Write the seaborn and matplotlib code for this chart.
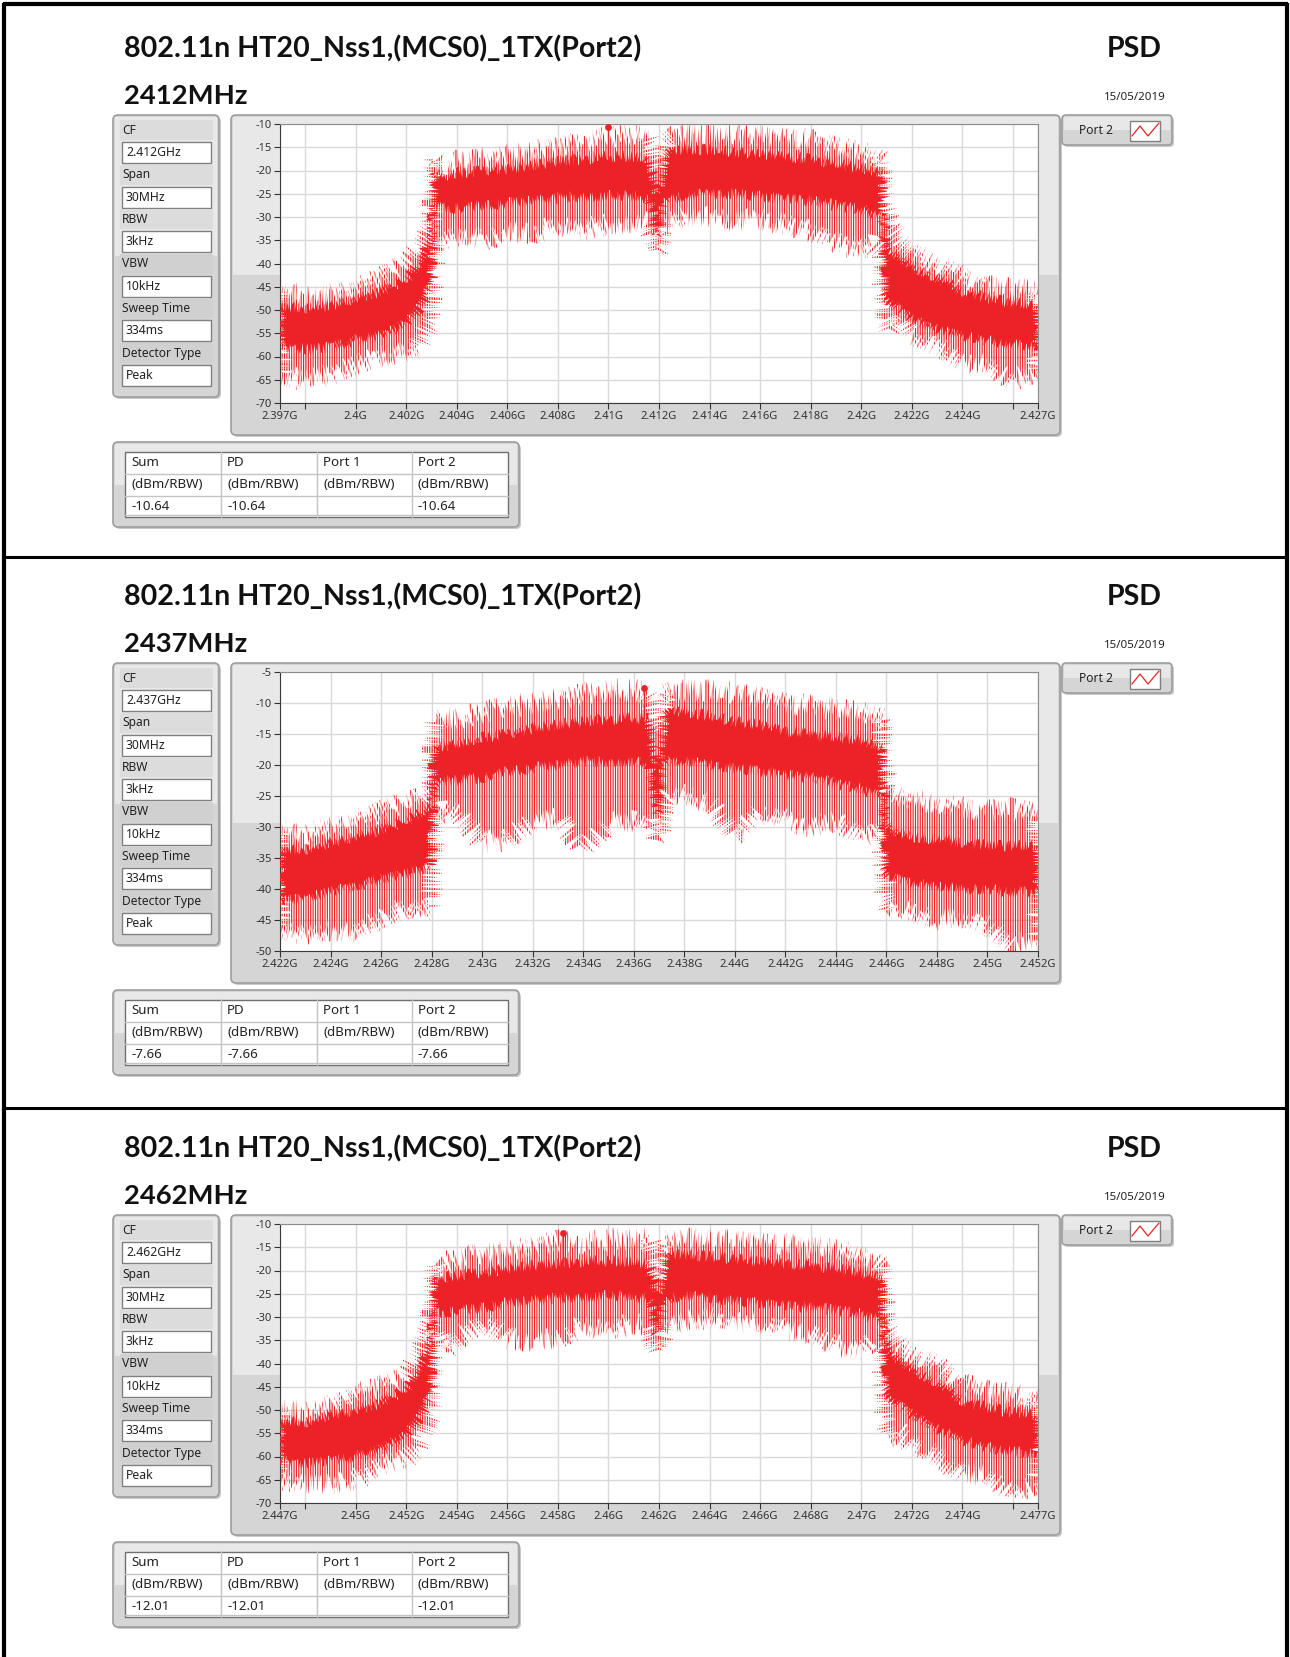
import numpy as np
import matplotlib
matplotlib.use('Agg')
import matplotlib.pyplot as plt
from matplotlib.patches import FancyBboxPatch, Rectangle, Polygon
import seaborn as sns

sns.set_style('white')
plt.rcParams['font.family'] = ['Noto Sans', 'DejaVu Sans']
plt.rcParams['axes.unicode_minus'] = False
plt.rcParams['hatch.linewidth'] = 0.85

W, H = 1290, 1657
RED = '#ed2227'

# ---------------- data ----------------
title = '802.11n HT20_Nss1,(MCS0)_1TX(Port2)'
channels = ['2412MHz', '2437MHz', '2462MHz']
centre_ghz = [2.412, 2.437, 2.462]
span_mhz = 30
cf_text = ['2.412GHz', '2.437GHz', '2.462GHz']
setting_names = ['CF', 'Span', 'RBW', 'VBW', 'Sweep Time', 'Detector Type']
setting_common = ['30MHz', '3kHz', '10kHz', '334ms', 'Peak']
table_cols = ['Sum', 'PD', 'Port 1', 'Port 2']
peak_dbm = ['-10.64', '-7.66', '-12.01']
peak_ghz = [2.4100, 2.4364, 2.4582]
date = '15/05/2019'

y_limits = [(-70, -10), (-50, -5), (-70, -10)]
xticks_2412 = [2.397, 2.398, 2.400, 2.402, 2.404, 2.406, 2.408, 2.410, 2.412, 2.414,
               2.416, 2.418, 2.420, 2.422, 2.424, 2.426, 2.427]
xlabels_2412 = ['2.397G', '', '2.4G', '2.402G', '2.404G', '2.406G', '2.408G', '2.41G', '2.412G',
                '2.414G', '2.416G', '2.418G', '2.42G', '2.422G', '2.424G', '', '2.427G']
xticks_2437 = [2.422, 2.424, 2.426, 2.428, 2.430, 2.432, 2.434, 2.436, 2.438, 2.440,
               2.442, 2.444, 2.446, 2.448, 2.450, 2.452]
xlabels_2437 = ['2.422G', '2.424G', '2.426G', '2.428G', '2.43G', '2.432G', '2.434G', '2.436G',
                '2.438G', '2.44G', '2.442G', '2.444G', '2.446G', '2.448G', '2.45G', '2.452G']
xticks_2462 = [2.447, 2.448, 2.450, 2.452, 2.454, 2.456, 2.458, 2.460, 2.462, 2.464,
               2.466, 2.468, 2.470, 2.472, 2.474, 2.476, 2.477]
xlabels_2462 = ['2.447G', '', '2.45G', '2.452G', '2.454G', '2.456G', '2.458G', '2.46G', '2.462G',
                '2.464G', '2.466G', '2.468G', '2.47G', '2.472G', '2.474G', '', '2.477G']

# offsets from the channel centre (MHz) where the trace envelope was read
offset_mhz = [-15, -14, -13, -12, -11, -10, -9.5, -9.0, -8.9, -8.8, -8.5, -8, -7, -6, -5, -4,
              -3, -2, -1, -0.4, -0.25, -0.1, 0.05, 0.2, 0.5, 1, 2, 3, 4, 5, 6, 7, 8, 8.5,
              8.85, 8.95, 9.1, 9.5, 10, 11, 12, 13, 14, 15]

# dense part of the trace (top / bottom) and the spike extremes (hi / lo), dBm
top_2412 = [-49, -49.5, -49, -47.5, -46, -43.5, -40, -34, -20.5, -20.5, -21, -20.5, -20, -19.5,
            -19, -18, -17.5, -17, -17, -17.5, -21, -25, -24, -17, -15.5, -15.5, -15.5, -16,
            -16.5, -17, -17.5, -18.5, -19.5, -20, -20.5, -35, -37, -38.5, -40.5, -43, -46,
            -47.5, -48.5, -49]
bot_2412 = [-58, -58.5, -58, -56.5, -55.5, -53, -50, -45, -28, -28, -28, -28, -27.5, -27,
            -26.5, -26, -25.5, -25.5, -25.5, -26, -29, -34, -33, -27, -26, -25.5, -25, -25,
            -25.5, -26, -26.5, -27.5, -28.5, -29.5, -30, -47, -48, -50, -52, -54, -55.5,
            -56.5, -57.5, -58]
hi_2412 = [-46, -46.5, -46.5, -45, -43, -40, -37, -32, -17.5, -18, -18.5, -18, -17.5, -16.5,
           -16, -15, -14, -13, -12, -12.5, -15, -20, -20, -14, -12.5, -12, -12, -12, -12.5,
           -13, -13.5, -15, -16, -17, -18, -28, -32, -35, -37.5, -40, -43, -45, -45.5, -46]
lo_2412 = [-64, -65, -64, -62, -60, -59, -58, -52, -34, -35, -35, -34, -35, -33, -33.5, -32,
           -33, -31.5, -31, -31.5, -34, -37.5, -36, -31, -31, -30, -30, -31, -30.5, -31.5,
           -33, -35.5, -37, -36, -38, -52, -54, -51, -55, -58, -61, -62, -65, -63]

top_2437 = [-33.5, -33.5, -32.5, -31.5, -30.5, -29, -28, -26.5, -17.5, -17, -17, -16.5, -15.5,
            -15, -14, -13.5, -13, -12.5, -12.5, -12.5, -16, -20, -19, -12, -11, -11.5, -12,
            -13, -13.5, -14.5, -15, -15.5, -16, -16.5, -17, -29, -30, -31, -31.5, -32, -32.5,
            -33, -33, -33]
bot_2437 = [-42, -41.5, -40.5, -39.5, -38.5, -37.5, -37, -36.5, -23.5, -23, -22.5, -22.5, -22,
            -21, -20.5, -20, -19.5, -19.5, -19.5, -20, -23, -28, -27, -20, -19, -19.5, -20,
            -20.5, -21, -21.5, -22, -23, -24, -24.5, -25, -37, -38, -38.5, -39, -39.5, -40,
            -40, -40.5, -40.5]
hi_2437 = [-30.5, -31, -30, -29, -27.5, -26, -25.5, -24, -13, -13, -12.5, -12.5, -11.5, -10.5,
           -10, -9.5, -8.5, -8, -8, -8.5, -9.5, -14, -15, -8.5, -8, -8, -8, -8.5, -9, -10,
           -10.5, -11, -11.5, -12, -12.5, -24, -24.5, -25, -25.5, -26, -27, -27.5, -27, -28]
lo_2437 = [-46.5, -47.5, -46.5, -47, -45, -43, -44, -43, -28, -28.5, -27, -28, -32.5, -32, -29,
           -28.5, -33.5, -29.5, -29, -30, -29, -31.5, -31, -26, -24.5, -25, -26, -31.5, -27.5,
           -29, -30, -29, -31.5, -31, -30, -41.5, -43.5, -43, -43.5, -45, -44.5, -46, -49,
           -48.5]

top_2462 = [-52, -52.5, -51, -50, -48.5, -45.5, -41, -35, -21, -21.5, -21.5, -21, -20.5, -19.5,
            -19, -18.5, -18, -18, -18, -18.5, -21, -25, -24, -17.5, -16.5, -16.5, -17, -17.5,
            -18, -18.5, -19, -19.5, -20.5, -21, -21.5, -35, -37, -39, -41, -44, -48, -49.5,
            -50.5, -51]
bot_2462 = [-61, -61.5, -61, -60, -58.5, -55.5, -52, -47, -29, -29, -29, -28.5, -28, -27,
            -26.5, -26, -25.5, -25.5, -25.5, -26, -29, -34, -33, -27, -26, -25.5, -26, -26.5,
            -27, -27.5, -28, -28.5, -29.5, -30, -30.5, -45, -47, -49, -51, -54, -56.5, -58,
            -59, -59.5]
hi_2462 = [-50, -50, -49, -46, -45, -43, -38, -31, -18.5, -19, -18.5, -17.5, -16.5, -16, -15,
           -13.5, -14, -13.5, -13, -13, -16, -22, -20, -14, -13.5, -13, -13.5, -13.5, -14,
           -14.5, -15, -15.5, -17, -17.5, -19, -31, -33, -36, -37.5, -40.5, -44.5, -46, -46.5,
           -48]
lo_2462 = [-64.5, -66, -66, -65, -62, -60.5, -58, -50, -33, -33.5, -37, -35, -31, -34.5, -35,
           -34.5, -32, -33, -31.5, -32, -35, -37.5, -36.5, -31, -31.5, -31, -30, -31.5, -31,
           -33, -33.5, -36, -37, -35, -37, -52, -56, -55, -57, -60, -64, -64, -68, -66]

traces = [(top_2412, bot_2412, hi_2412, lo_2412),
          (top_2437, bot_2437, hi_2437, lo_2437),
          (top_2462, bot_2462, hi_2462, lo_2462)]
xticks = [xticks_2412, xticks_2437, xticks_2462]
xlabels = [xlabels_2412, xlabels_2437, xlabels_2462]

# ---------------- layout (pixels) ----------------
panel_dy = [0, 548, 1100]


def px_box(x0, y0, x1, y1):
    return [x0 / W, 1 - y1 / H, (x1 - x0) / W, (y1 - y0) / H]


fig = plt.figure(figsize=(W / 100, H / 100), dpi=100)
bg = fig.add_axes([0, 0, 1, 1])
bg.set_xlim(0, W)
bg.set_ylim(H, 0)
bg.axis('off')


def gray_box(x0, y0, x1, y1, r=5):
    bg.add_patch(FancyBboxPatch((x0 + 2, y0 + 2), x1 - x0, y1 - y0,
                                boxstyle=f'round,pad=0,rounding_size={r}', fc='#c9c9c9', ec='none'))
    bg.add_patch(FancyBboxPatch((x0, y0), x1 - x0, y1 - y0,
                                boxstyle=f'round,pad=0,rounding_size={r}', fc='#d5d5d5',
                                ec='#9d9d9d', lw=1.2))
    bg.add_patch(Rectangle((x0 + 2, y0 + 2), x1 - x0 - 4, (y1 - y0) / 2 - 2, fc='#e8e8e8', ec='none'))


def white_box(x0, y0, x1, y1):
    bg.add_patch(Rectangle((x0, y0), x1 - x0, y1 - y0, fc='white', ec='#808080', lw=1))


# page frame
bg.plot([4, 4], [3, H], color='black', lw=3, solid_capstyle='butt')
bg.plot([1287, 1287], [3, H], color='black', lw=3, solid_capstyle='butt')
bg.plot([3, 1288], [4, 4], color='black', lw=3, solid_capstyle='butt')
for ys in [557, 1108]:
    bg.plot([3, 1288], [ys, ys], color='black', lw=2.2, solid_capstyle='butt')

for i in range(3):
    dy = panel_dy[i]
    # headings
    bg.text(124, 57 + dy, title, fontsize=20.6, fontweight='bold', family=['Lato', 'DejaVu Sans'],
            va='baseline', ha='left', color='#111111')
    bg.text(1162, 57 + dy, 'PSD', fontsize=20.6, fontweight='bold', family=['Lato', 'DejaVu Sans'],
            va='baseline', ha='right', color='#111111')
    bg.text(124, 104 + dy, channels[i], fontsize=19.7, fontweight='bold', family=['Lato', 'DejaVu Sans'],
            va='baseline', ha='left', color='#111111')
    bg.text(1166, 97 + dy, date, fontsize=8.3, va='center', ha='right', color='#222222')

    # settings panel
    gray_box(113, 115 + dy, 219, 397 + dy)
    values = [cf_text[i]] + setting_common
    for j, (name, val) in enumerate(zip(setting_names, values)):
        yl = 130 + dy + j * 44.6
        bg.add_patch(Rectangle((120, yl - 10), 93, 20, fc='#dcdcdc' if j < 3 else '#d0d0d0', ec='none'))
        bg.text(122, yl, name, fontsize=8.7, va='center', ha='left', color='#222222')
        white_box(122, yl + 12, 211, yl + 33)
        bg.text(126, yl + 22.5, val, fontsize=8.8, va='center', ha='left', color='#222222')

    # plot frame
    gray_box(231, 115 + dy, 1060, 435 + dy)

    # legend
    gray_box(1062, 115 + dy, 1172, 145 + dy, r=4)
    bg.text(1079, 130 + dy, 'Port 2', fontsize=8.7, va='center', ha='left', color='#222222')
    white_box(1130, 121 + dy, 1160, 141 + dy)
    bg.plot([1132, 1140, 1148, 1159], [136 + dy, 126 + dy, 136 + dy, 123 + dy], color=RED, lw=0.9)

    # result table
    gray_box(113, 442 + dy, 519, 527 + dy)
    bg.add_patch(Rectangle((125, 452 + dy), 383, 65, fc='white', ec='#707070', lw=1))
    for yl in [474, 496, 515]:
        bg.plot([125, 508], [yl + dy, yl + dy], color='#c4c4c4', lw=1)
    for xl in [221, 317, 412]:
        bg.plot([xl, xl], [452 + dy, 517 + dy], color='#c4c4c4', lw=1)
    col_x = [125, 221, 317, 412]
    row_vals = [peak_dbm[i], peak_dbm[i], '', peak_dbm[i]]
    for c in range(4):
        bg.text(col_x[c] + 6, 463 + dy, table_cols[c], fontsize=9.6, va='center', color='#222222')
        bg.text(col_x[c] + 6, 485 + dy, '(dBm/RBW)', fontsize=9.6, va='center', color='#222222')
        bg.text(col_x[c] + 6, 506 + dy, row_vals[c], fontsize=9.6, va='center', color='#222222')

    # spectrum
    ax = fig.add_axes(px_box(280, 124 + dy, 1038, 403 + dy))
    ax.set_facecolor('white')
    top, bot, hi, lo = [np.array(a, dtype=float) for a in traces[i]]
    f = centre_ghz[i] + np.array(offset_mhz) / 1000.0

    # spikes: vertical hatch clipped to a jittered envelope
    outer = Polygon(np.column_stack([np.concatenate([f, f[::-1]]), np.concatenate([hi, lo[::-1]])]),
                    closed=True, fc='none', ec=RED, lw=0, hatch='|||||||', zorder=2)
    outer.set_sketch_params(12, 1.0, 4.0)
    ax.add_patch(outer)
    # dense body of the trace
    band = Polygon(np.column_stack([np.concatenate([f, f[::-1]]), np.concatenate([top, bot[::-1]])]),
                   closed=True, fc=RED, ec='none', lw=0, zorder=3)
    band.set_sketch_params(6, 1.0, 4.0)
    ax.add_patch(band)

    # peak marker on top of its spike
    pk = float(peak_dbm[i])
    ax.vlines(peak_ghz[i], np.interp(peak_ghz[i], f, top), pk, color=RED, lw=1.0, zorder=4)
    sns.scatterplot(x=[peak_ghz[i]], y=[pk], ax=ax, color=RED, s=24,
                    edgecolor=RED, linewidth=0, zorder=5, legend=False)

    ax.set_xlim(centre_ghz[i] - span_mhz / 2000, centre_ghz[i] + span_mhz / 2000)
    ax.set_ylim(*y_limits[i])
    ax.set_xticks(xticks[i])
    ax.set_xticklabels(xlabels[i])
    ax.set_yticks(np.arange(y_limits[i][0], y_limits[i][1] + 1, 5))
    ax.grid(True, color='#d9d9d9', lw=1)
    ax.set_axisbelow(True)
    ax.tick_params(axis='both', direction='out', length=4, width=0.8, color='#333333',
                   labelsize=8, labelcolor='#333333', pad=2, left=True, bottom=True)
    for side in ['left', 'bottom']:
        ax.spines[side].set_color('#3a3a3a')
        ax.spines[side].set_linewidth(0.8)
    for side in ['top', 'right']:
        ax.spines[side].set_color('#8c8c8c')
        ax.spines[side].set_linewidth(0.8)
    ax.set_xlabel('')
    ax.set_ylabel('')

fig.savefig('out.png', dpi=100)
